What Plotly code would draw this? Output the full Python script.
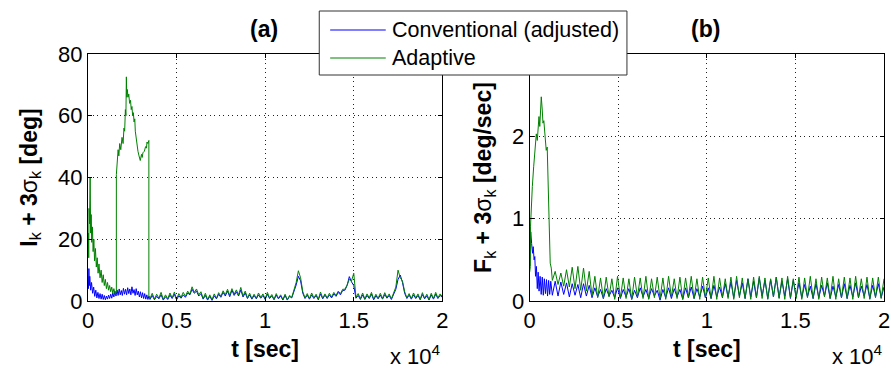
import plotly.graph_objects as go

# ---------------- Panel (a): I_k + 3 sigma_k [deg] ----------------
# early segment (explicit sample times, seconds)
a_green_t0 = [0, 20, 40, 60, 90, 120, 150, 180, 210, 250, 290, 330, 370, 420, 470, 520, 570, 620, 680,
              740, 800, 860, 920, 980, 1040, 1100, 1160, 1220, 1280, 1340, 1400, 1460, 1530, 1600,
              1601, 1650, 1700, 1740, 1790, 1850, 1920, 1980, 2030, 2070, 2110, 2140, 2165, 2190, 2220,
              2260, 2300, 2350, 2400, 2440, 2480, 2520, 2560, 2600, 2640, 2670, 2725, 2770, 2820, 2880,
              2950, 3020, 3060, 3100, 3180, 3250, 3300, 3330, 3380, 3435, 3436]
a_green_v0 = [16, 22, 14, 30, 25, 40, 22, 28, 19, 24, 16, 20, 13, 17, 11, 14, 9, 12, 7.5,
              10, 6, 8.5, 5, 7, 4, 6, 3.5, 5, 3, 4.5, 2.5, 4, 2.2, 3,
              41, 45, 49, 47, 51, 49, 53, 51, 56, 55, 62, 60, 72.6, 66, 68.5,
              66, 67, 64, 65, 62, 63, 60, 61, 58, 59, 55, 52, 50, 48.5, 47,
              45.5, 47.5, 46.5, 48, 48.5, 50, 49.5, 51.5, 51, 52, 1.5]
a_blue_t0 = [0, 25, 50, 75, 100, 150, 200, 260, 320, 380, 440, 500, 560, 620, 680, 740, 800, 860,
             920, 980, 1040, 1100, 1160, 1220, 1280, 1340, 1400, 1460, 1520, 1580, 1640, 1700, 1760,
             1820, 1880, 1940, 2000, 2060, 2120, 2180, 2240, 2300, 2360, 2420, 2480, 2540, 2600, 2660,
             2720, 2780, 2840, 2900, 2960, 3020, 3080, 3140, 3200, 3260, 3320, 3380, 3440]
a_blue_v0 = [8, 4, 10.5, 5, 8, 3.5, 6, 2.5, 4.5, 1.5, 3.5, 1, 2.8, 0.8, 2.4, 0.6, 2.2, 0.5,
             1.8, 0.4, 1.6, 0.6, 1.9, 0.8, 2.2, 0.9, 2.6, 1.3, 3.2, 1.6, 3.6, 1.8, 3.9,
             2.0, 3.4, 1.8, 4.1, 2.2, 3.8, 2.0, 4.3, 2.4, 3.9, 2.0, 4.6, 2.5, 3.7, 1.8, 4.0,
             2.0, 3.2, 1.3, 3.0, 1.0, 2.7, 0.8, 2.4, 0.6, 2.0, 0.5, 1.6]
# remaining samples every 125 s from 3500 s to 20000 s
a_tail_t = list(range(3500, 20001, 125))
a_green_tail = [0.8, 2.5, 0.6, 2.2, 0.9, 2.8, 0.5, 2.0,
                0.7, 2.6, 1.0, 2.9, 0.6, 2.4, 1.2, 2.8,
                1.5, 3.2, 2.2, 4.6, 2.8, 3.9, 2.0, 3.0,
                0.8, 2.5, 0.5, 2.0, 0.4, 2.3, 0.9, 2.7,
                1.5, 3.3, 2.0, 3.8, 1.8, 4.0, 2.2, 3.6,
                2.0, 4.4, 1.6, 3.2, 1.0, 2.5, 0.8, 2.2,
                0.9, 2.6, 1.2, 2.3, 0.7, 2.8, 1.0, 2.1,
                0.6, 2.4, 0.9, 2.0, 0.5, 2.2, 0.4, 1.8,
                1.2, 3.5, 6.0, 9.8, 7.5, 3.0, 1.0, 2.4,
                0.8, 2.6, 1.0, 2.2, 0.6, 2.9, 0.9, 2.3,
                1.0, 2.5, 1.3, 2.8, 1.8, 3.2, 2.4, 3.8,
                3.8, 5.2, 7.0, 6.5, 9.0, 1.2, 2.4, 0.8,
                2.6, 0.7, 2.3, 1.0, 2.8, 0.6, 2.2, 0.9,
                2.5, 0.8, 2.7, 1.1, 2.3, 0.7, 2.9, 4.5,
                10.0, 7.5, 6.5, 3.0, 1.0, 2.4, 0.8, 2.6,
                1.0, 2.3, 0.6, 2.7, 0.9, 2.2, 0.5, 2.5,
                0.8, 2.8, 1.0, 2.3, 1.5]
a_blue_tail = [0.5, 1.8, 0.4, 1.5, 0.7, 2.0, 0.3, 1.4,
               0.5, 1.9, 0.8, 2.2, 0.4, 1.7, 0.9, 2.0,
               1.2, 2.6, 2.0, 3.8, 2.5, 3.2, 1.6, 2.4,
               0.6, 1.8, 0.3, 1.5, 0.2, 1.7, 0.7, 2.2,
               1.2, 2.8, 1.6, 3.2, 1.4, 3.5, 1.8, 3.0,
               1.6, 3.6, 1.3, 2.6, 0.8, 2.0, 0.6, 1.8,
               0.7, 2.0, 0.9, 1.8, 0.5, 2.2, 0.8, 1.7,
               0.4, 1.9, 0.7, 1.6, 0.3, 1.8, 0.3, 1.5,
               1.0, 3.0, 5.2, 8.0, 6.5, 2.5, 0.8, 1.9,
               0.6, 2.0, 0.8, 1.8, 0.4, 2.3, 0.7, 1.9,
               0.8, 2.0, 1.0, 2.3, 1.5, 2.8, 2.0, 3.4,
               3.5, 5.0, 7.9, 6.2, 5.0, 0.9, 1.8, 0.5,
               2.0, 0.5, 1.8, 0.8, 2.2, 0.4, 1.7, 0.7,
               1.9, 0.6, 2.1, 0.9, 1.8, 0.5, 2.3, 3.8,
               7.0, 8.4, 6.0, 2.5, 0.8, 1.9, 0.6, 2.0,
               0.8, 1.8, 0.4, 2.1, 0.7, 1.7, 0.3, 2.0,
               0.6, 2.2, 0.8, 1.8, 1.2]

# ---------------- Panel (b): F_k + 3 sigma_k [deg/sec] ----------------
b_green_t0 = [0, 40, 45, 95, 150, 225, 280, 340, 375, 430, 490, 525, 570, 620, 655, 710, 750, 800,
              860, 935, 990, 1045, 1085, 1160, 1220]
b_green_v0 = [0.35, 0.42, 0.9, 1.19, 1.39, 1.63, 1.83, 1.91, 2.03, 1.95, 2.19, 2.24, 2.12, 2.40, 2.48,
              2.32, 2.16, 2.19, 1.99, 1.83, 1.87, 1.35, 1.02, 0.46, 0.40]
b_blue_t0 = [0, 30, 60, 110, 160, 200, 250, 290, 330, 380, 430, 480, 530, 590, 650, 710, 770, 830,
             890, 950, 1010, 1070, 1130, 1190]
b_blue_v0 = [0.5, 0.8, 0.84, 0.7, 0.58, 0.66, 0.5, 0.54, 0.3, 0.42, 0.15, 0.35, 0.12, 0.30, 0.08,
             0.29, 0.07, 0.27, 0.09, 0.26, 0.06, 0.25, 0.08, 0.24]
# remaining samples every 160 s from 1280 s to 20000 s
b_tail_t = list(range(1280, 20001, 160))
b_green_tail = [0.25, 0.36, 0.20, 0.34, 0.18, 0.38, 0.17, 0.41, 0.15, 0.42, 0.13, 0.40, 0.12, 0.36,
                0.06, 0.30, 0.04, 0.28, 0.03, 0.29, 0.05, 0.27, 0.02, 0.30, 0.04, 0.28, 0.03, 0.27, 0.02, 0.29, 0.05, 0.28, 0.03, 0.30,
                0.02, 0.27, 0.04, 0.29, 0.03, 0.28, 0.02, 0.30, 0.05, 0.27, 0.03, 0.29, 0.02, 0.28, 0.04, 0.30, 0.03, 0.27, 0.02, 0.29,
                0.04, 0.28, 0.03, 0.30, 0.02, 0.28, 0.05, 0.27, 0.03, 0.29, 0.02, 0.30, 0.04, 0.28, 0.03, 0.27, 0.02, 0.29, 0.04, 0.30,
                0.03, 0.28, 0.02, 0.27, 0.05, 0.29, 0.03, 0.28, 0.02, 0.30, 0.04, 0.27, 0.03, 0.29, 0.02, 0.28, 0.04, 0.30, 0.03, 0.27,
                0.02, 0.29, 0.05, 0.28, 0.03, 0.30, 0.02, 0.27, 0.04, 0.29, 0.03, 0.28, 0.02, 0.30, 0.04, 0.27, 0.03, 0.29, 0.02, 0.28,
                0.04, 0.29, 0.03, 0.27]
b_blue_tail = [0.07, 0.24, 0.06, 0.23, 0.08, 0.22, 0.05, 0.21, 0.07, 0.20, 0.04, 0.21, 0.06, 0.19,
               0.04, 0.16, 0.05, 0.14, 0.03, 0.15, 0.06, 0.13, 0.04, 0.16,
               0.03, 0.14, 0.05, 0.15, 0.02, 0.13, 0.04, 0.16, 0.05, 0.14,
               0.03, 0.15, 0.06, 0.13, 0.01, 0.14, 0.04, 0.16, 0.03, 0.15,
               0.05, 0.14, 0.02, 0.16, 0.04, 0.17, 0.03, 0.15, 0.05, 0.18,
               0.04, 0.16, 0.03, 0.19, 0.05, 0.17, 0.04,
               0.21, 0.05, 0.23, 0.04, 0.25, 0.06, 0.22, 0.03, 0.27, 0.05,
               0.24, 0.04, 0.28, 0.06, 0.25, 0.03, 0.26, 0.05, 0.29, 0.04,
               0.24, 0.06, 0.27, 0.03, 0.25, 0.05, 0.22, 0.04,
               0.20, 0.05, 0.18, 0.03, 0.21, 0.04, 0.19, 0.06, 0.22, 0.03,
               0.18, 0.05, 0.20, 0.04, 0.21, 0.03, 0.19, 0.05, 0.22, 0.04,
               0.18, 0.06, 0.20, 0.03, 0.19, 0.05, 0.21, 0.04, 0.17]

x_tickvals = [0, 5000, 10000, 15000, 20000]
x_ticktext = ["0", "0.5", "1", "1.5", "2"]
a_yticks = [0, 20, 40, 60, 80]
b_yticks = [0, 1, 2, 3]
series_names = ["Conventional (adjusted)", "Adaptive"]

BLUE = "#0000FF"
GREEN = "#008000"
FONT = "Liberation Sans, Arial, sans-serif"

fig = go.Figure()
fig.add_trace(go.Scatter(x=a_blue_t0 + a_tail_t, y=a_blue_v0 + a_blue_tail, mode="lines",
                         line=dict(color=BLUE, width=1), name=series_names[0],
                         xaxis="x", yaxis="y"))
fig.add_trace(go.Scatter(x=a_green_t0 + a_tail_t, y=a_green_v0 + a_green_tail, mode="lines",
                         line=dict(color=GREEN, width=1), name=series_names[1],
                         xaxis="x", yaxis="y"))
fig.add_trace(go.Scatter(x=b_blue_t0 + b_tail_t, y=b_blue_v0 + b_blue_tail, mode="lines",
                         line=dict(color=BLUE, width=1), name=series_names[0],
                         xaxis="x2", yaxis="y2"))
fig.add_trace(go.Scatter(x=b_green_t0 + b_tail_t, y=b_green_v0 + b_green_tail, mode="lines",
                         line=dict(color=GREEN, width=1), name=series_names[1],
                         xaxis="x2", yaxis="y2"))

L, R, T, B = 88, 1, 54, 68
W, H = 891, 369
pw = W - L - R
ph = H - T - B
def px(xp):
    return (xp - L) / pw
def py(yp):
    return (H - B - yp) / ph

axis_common = dict(showline=True, linecolor="black", linewidth=1, mirror="ticks",
                   ticks="inside", ticklen=4, tickcolor="black",
                   showgrid=True, gridcolor="#222222", gridwidth=1, griddash="1px,3.5px",
                   zeroline=False, tickfont=dict(family=FONT, size=22, color="black"))

title_font = dict(family=FONT, size=23, color="black")
legend_font = dict(family=FONT, size=21.5, color="black")

# legend box (drawn above the plots, like the reference's boxed legend)
leg_x0, leg_x1, leg_y0, leg_y1 = 321, 631, 11, 75
leg_rows = [30, 58]
leg_colors = [BLUE, GREEN]

shapes = [dict(type="rect", xref="paper", yref="paper", x0=px(leg_x0), x1=px(leg_x1),
               y0=py(leg_y1), y1=py(leg_y0), fillcolor="white",
               line=dict(color="#333333", width=1), layer="above")]
annotations = []
for name, color, row in zip(series_names, leg_colors, leg_rows):
    shapes.append(dict(type="line", xref="paper", yref="paper", x0=px(332), x1=px(388),
                       y0=py(row), y1=py(row), line=dict(color=color, width=1), layer="above"))
    annotations.append(dict(text=name, x=px(392), y=py(row), xref="paper", yref="paper",
                            showarrow=False, xanchor="left", yanchor="middle", font=legend_font))

annotations += [
    dict(text="<b>(a)</b>", x=px(265), y=py(29), xref="paper", yref="paper",
         showarrow=False, xanchor="center", yanchor="middle", font=title_font),
    dict(text="<b>(b)</b>", x=px(710), y=py(29), xref="paper", yref="paper",
         showarrow=False, xanchor="center", yanchor="middle", font=title_font),
    dict(text="x 10<sup>4</sup>", x=px(446), y=py(355), xref="paper", yref="paper",
         showarrow=False, xanchor="right", yanchor="middle", font=dict(family=FONT, size=22, color="black")),
    dict(text="x 10<sup>4</sup>", x=px(891), y=py(355), xref="paper", yref="paper",
         showarrow=False, xanchor="right", yanchor="middle", font=dict(family=FONT, size=22, color="black")),
]

fig.update_layout(
    width=W, height=H,
    margin=dict(l=L, r=R, t=T, b=B),
    paper_bgcolor="white", plot_bgcolor="white",
    font=dict(family=FONT, size=21, color="black"),
    showlegend=False,
    xaxis=dict(domain=[0, px(445)], range=[0, 20000], tickvals=x_tickvals, ticktext=x_ticktext,
               title=dict(text="<b>t [sec]</b>", font=title_font, standoff=8), anchor="y", **axis_common),
    yaxis=dict(domain=[0, 1], range=[0, 80], tickvals=a_yticks, anchor="x",
               title=dict(text="<b>I</b><sub>k</sub><b> + 3</b>σ<sub>k</sub><b> [deg]</b>",
                          font=title_font, standoff=14), **axis_common),
    xaxis2=dict(domain=[px(533), 1], range=[0, 20000], tickvals=x_tickvals, ticktext=x_ticktext,
                title=dict(text="<b>t [sec]</b>", font=title_font, standoff=8), anchor="y2", **axis_common),
    yaxis2=dict(domain=[0, 1], range=[0, 3], tickvals=b_yticks, anchor="x2",
                title=dict(text="<b>F</b><sub>k</sub><b> + 3</b>σ<sub>k</sub><b> [deg/sec]</b>",
                           font=title_font, standoff=13), **axis_common),
    shapes=shapes,
    annotations=annotations,
)

fig.write_html("out.html")
